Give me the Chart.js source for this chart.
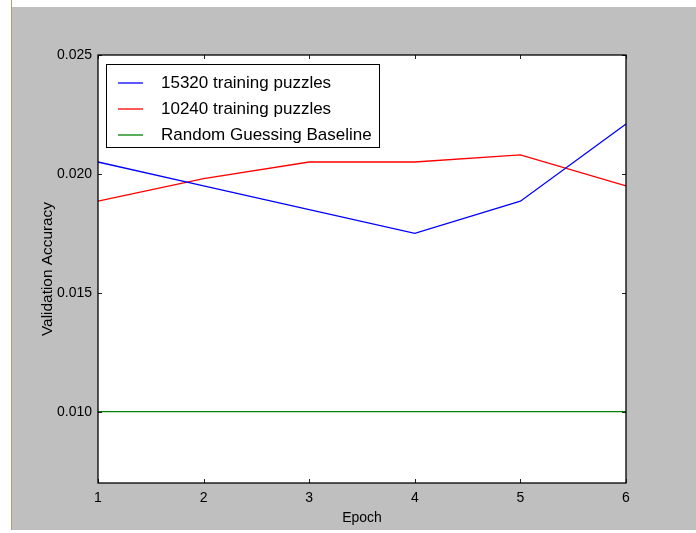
<!DOCTYPE html>
<html>
<head>
<meta charset="utf-8">
<script src="https://cdn.jsdelivr.net/npm/chart.js@4.4.0/dist/chart.umd.min.js"></script>
<style>
  html, body { margin: 0; padding: 0; background: #bfbfbf; width: 696px; height: 533px; overflow: hidden; }
  #haut { position: absolute; left: 0; top: 0; width: 696px; height: 7px; background: #fff; }
  #gauche { position: absolute; left: 0; top: 0; width: 11px; height: 533px; background: #fff; border-right: 1px solid #aaa27a; }
  #bas { position: absolute; left: 0; top: 530px; width: 696px; height: 3px; background: #fff; }
  #graphique { position: absolute; left: 0; top: 0; }
</style>
</head>
<body>
<div id="haut"></div>
<div id="gauche"></div>
<div id="bas"></div>
<canvas id="graphique" width="696" height="533"></canvas>
<script>
// données
const epochs = [1, 2, 3, 4, 5, 6];
const acc15320 = [0.0205, 0.0195, 0.0185, 0.0175, 0.01885, 0.0221];
const acc10240 = [0.01885, 0.0198, 0.0205, 0.0205, 0.0208, 0.0195];
const baseline = [0.010, 0.010, 0.010, 0.010, 0.010, 0.010];
const yTicks = [0.010, 0.015, 0.020, 0.025];
const noms = ['15320 training puzzles', '10240 training puzzles', 'Random Guessing Baseline'];

const police = '"Liberation Sans", Arial, Helvetica, sans-serif';

// fond blanc, cadre, graduations intérieures
const cadrePlugin = {
    id: 'cadre',
    beforeDraw(chart) {
        const a = chart.chartArea;
        const ctx = chart.ctx;
        ctx.save();
        ctx.fillStyle = '#ffffff';
        ctx.fillRect(a.left, a.top, a.right - a.left, a.bottom - a.top);
        ctx.restore();
    },
    afterDatasetsDraw(chart) {
        const a = chart.chartArea;
        const ctx = chart.ctx;
        const sx = chart.scales.x;
        const sy = chart.scales.y;
        ctx.save();
        ctx.strokeStyle = '#222';
        ctx.lineWidth = 1;
        ctx.beginPath();
        sx.ticks.forEach((t, i) => {
            const x = Math.round(sx.getPixelForTick(i)) + 0.5;
            ctx.moveTo(x, a.bottom); ctx.lineTo(x, a.bottom - 4);
            ctx.moveTo(x, a.top); ctx.lineTo(x, a.top + 4);
        });
        sy.ticks.forEach(t => {
            const y = Math.round(sy.getPixelForValue(t.value)) + 0.5;
            ctx.moveTo(a.left, y); ctx.lineTo(a.left + 4, y);
            ctx.moveTo(a.right, y); ctx.lineTo(a.right - 4, y);
        });
        ctx.stroke();
        ctx.strokeStyle = '#000';
        ctx.lineWidth = 1.3;
        ctx.strokeRect(a.left, a.top, a.right - a.left, a.bottom - a.top);
        ctx.restore();
    }
};

// légende dessinée dans la zone du graphique, en haut à gauche
const legendePlugin = {
    id: 'legende',
    afterDraw(chart) {
        const a = chart.chartArea;
        const ctx = chart.ctx;
        const x0 = a.left + 8, y0 = a.top + 9;
        ctx.save();
        ctx.fillStyle = '#fff';
        ctx.fillRect(x0, y0, 273, 83);
        ctx.strokeStyle = '#000';
        ctx.lineWidth = 1;
        ctx.strokeRect(x0 + 0.5, y0 + 0.5, 273, 83);
        ctx.font = '17px ' + police;
        ctx.textBaseline = 'middle';
        chart.data.datasets.forEach((ds, i) => {
            const y = y0 + 19 + i * 26;
            ctx.strokeStyle = ds.borderColor;
            ctx.lineWidth = 1.3;
            ctx.beginPath();
            ctx.moveTo(x0 + 12, y);
            ctx.lineTo(x0 + 37, y);
            ctx.stroke();
            ctx.fillStyle = '#000';
            ctx.fillText(ds.label, x0 + 55, y);
        });
        ctx.restore();
    }
};

const ctx = document.getElementById('graphique').getContext('2d');
new Chart(ctx, {
    type: 'line',
    data: {
        labels: epochs,
        datasets: [
            { label: noms[0], data: acc15320, borderColor: '#0000ff', borderWidth: 1.3, pointRadius: 0, tension: 0, fill: false },
            { label: noms[1], data: acc10240, borderColor: '#ff0000', borderWidth: 1.3, pointRadius: 0, tension: 0, fill: false },
            { label: noms[2], data: baseline, borderColor: '#008000', borderWidth: 1.3, pointRadius: 0, tension: 0, fill: false }
        ]
    },
    options: {
        responsive: false,
        animation: false,
        devicePixelRatio: 1,
        layout: { padding: { top: 55, right: 70, left: 0, bottom: 0 } },
        plugins: {
            legend: { display: false },
            tooltip: { enabled: false }
        },
        scales: {
            x: {
                offset: false,
                grid: { display: false, drawTicks: false },
                border: { display: false },
                ticks: { color: '#000', font: { family: police, size: 14 }, padding: 7, maxRotation: 0 },
                title: { display: true, text: 'Epoch', color: '#000', font: { family: police, size: 14 }, padding: { top: 0, bottom: 6.6 } },
                afterFit(scale) { scale.height = 50; }
            },
            y: {
                min: 0.007,
                max: 0.025,
                grid: { display: false, drawTicks: false },
                border: { display: false },
                afterBuildTicks(scale) { scale.ticks = yTicks.map(v => ({ value: v })); },
                ticks: { color: '#000', font: { family: police, size: 14 }, padding: 6, callback: v => v.toFixed(3) },
                title: { display: true, text: 'Validation Accuracy', color: '#000', font: { family: police, size: 15.4 }, padding: { top: 38.8, bottom: 0 } },
                afterFit(scale) { scale.width = 98; }
            }
        }
    },
    plugins: [cadrePlugin, legendePlugin]
});
</script>
</body>
</html>
